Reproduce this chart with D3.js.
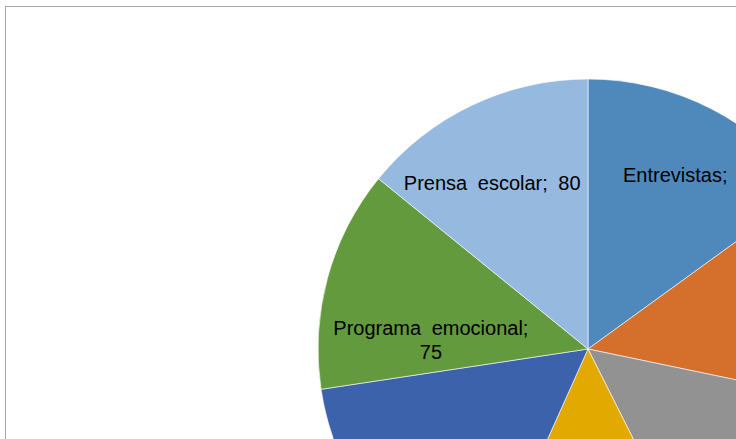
<!DOCTYPE html>
<html>
<head>
<meta charset="utf-8">
<script src="https://cdn.jsdelivr.net/npm/d3@7"></script>
<style>
  html, body { margin: 0; padding: 0; background: #fff; overflow: hidden; }
  #chart { width: 736px; height: 439px; overflow: hidden; }
</style>
</head>
<body>
<div id="chart"></div>
<script>
// data (slices clockwise from 12 o'clock)
const categories = ["Entrevistas", "Talleres", "Tutorías", "Charlas", "Convivencias", "Programa emocional", "Prensa escolar"];
const values = [85, 75, 81, 80, 90, 75, 80];
const colors = ["#4F88BB", "#D46F2C", "#929292", "#E2A900", "#3C62AC", "#639A3D", "#96B9E0"];

// label nudges (Excel "best fit" placement), in px
const labelNudge = [[15, 0], [40, 0], [20, 20], [0, 20], [0, 20], [31, 42], [-12, 10]];

const W = 1180, H = 700;
const cx = 588, cy = 349, radius = 270;

const svg = d3.select("#chart")
  .append("svg")
    .attr("width", W)
    .attr("height", H)
    .style("font-family", "'Liberation Sans', Arial, sans-serif");

// chart frame
svg.append("rect")
  .attr("x", 5.5)
  .attr("y", 6.5)
  .attr("width", W - 20)
  .attr("height", H - 20)
  .attr("fill", "#fff")
  .attr("stroke", "#A6A6A6")
  .attr("stroke-width", 1);

const data = categories.map(function(c, i) {
  return {name: c, value: values[i], color: colors[i], nudge: labelNudge[i]};
});

const pie = d3.pie()
  .sort(null)
  .value(function(d) { return d.value; });

const arc = d3.arc().innerRadius(0).outerRadius(radius);
const labelArc = d3.arc().innerRadius(195).outerRadius(195);

const g = svg.append("g")
  .attr("transform", "translate(" + cx + "," + cy + ")");

const arcs = pie(data);

g.selectAll("path")
  .data(arcs)
  .enter()
  .append("path")
    .attr("d", arc)
    .attr("fill", function(d) { return d.data.color; })
    .attr("stroke", "#fff")
    .attr("stroke-width", 0.6);

const labels = g.selectAll("text.lbl")
  .data(arcs)
  .enter()
  .append("text")
    .attr("class", "lbl")
    .attr("text-anchor", "middle")
    .style("font-size", "20px")
    .style("word-spacing", "5px")
    .attr("fill", "#000")
    .attr("transform", function(d) {
      const c = labelArc.centroid(d);
      return "translate(" + (c[0] + d.data.nudge[0]) + "," + (c[1] + d.data.nudge[1]) + ")";
    });

labels.each(function(d) {
  const t = d3.select(this);
  // long names wrap onto two lines like in Excel
  if (d.data.name.length > 15) {
    t.append("tspan").attr("x", 0).attr("y", -5).text(d.data.name + ";");
    t.append("tspan").attr("x", 0).attr("y", 19).text(d.data.value);
  } else {
    t.append("tspan").attr("x", 0).attr("y", 7).text(d.data.name + "; " + d.data.value);
  }
});
</script>
</body>
</html>
